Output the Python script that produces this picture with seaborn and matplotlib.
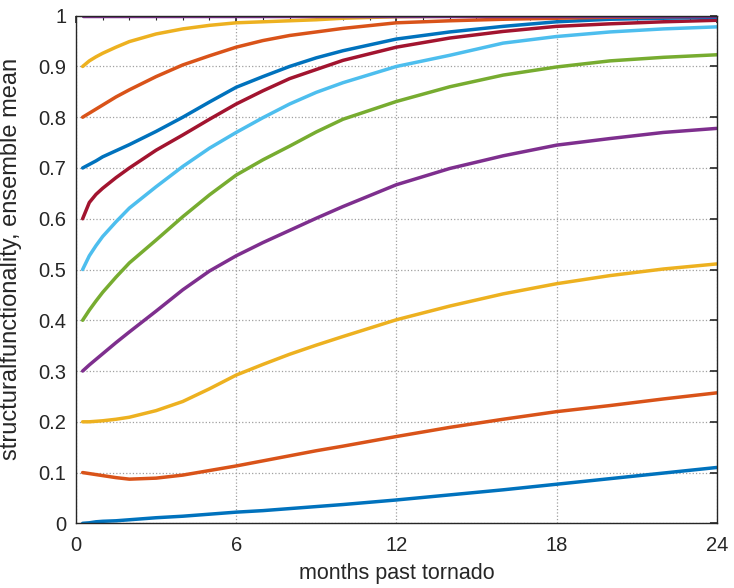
import numpy as np
import pandas as pd
import matplotlib
matplotlib.use("Agg")
import matplotlib.pyplot as plt
import seaborn as sns
from matplotlib.ticker import MultipleLocator

months = [0.25, 0.5, 0.75, 1, 1.5, 2, 3, 4, 5, 6, 7, 8, 9, 10, 12, 14, 16, 18, 20, 22, 24]

s00 = [0.000, 0.001, 0.003, 0.004, 0.005, 0.007, 0.011, 0.014, 0.018, 0.022, 0.025, 0.029, 0.033, 0.037, 0.046, 0.056, 0.066, 0.077, 0.088, 0.099, 0.110]
s01 = [0.100, 0.098, 0.096, 0.094, 0.090, 0.087, 0.089, 0.095, 0.104, 0.113, 0.123, 0.133, 0.143, 0.152, 0.171, 0.189, 0.205, 0.220, 0.232, 0.245, 0.257]
s02 = [0.200, 0.200, 0.201, 0.202, 0.205, 0.209, 0.222, 0.240, 0.265, 0.292, 0.313, 0.333, 0.351, 0.368, 0.401, 0.428, 0.452, 0.472, 0.488, 0.501, 0.511]
s03 = [0.300, 0.312, 0.323, 0.334, 0.356, 0.377, 0.418, 0.460, 0.497, 0.527, 0.553, 0.577, 0.601, 0.624, 0.667, 0.699, 0.724, 0.745, 0.758, 0.770, 0.778]
s04 = [0.400, 0.420, 0.438, 0.455, 0.485, 0.513, 0.558, 0.604, 0.647, 0.686, 0.716, 0.743, 0.771, 0.796, 0.831, 0.860, 0.883, 0.899, 0.911, 0.918, 0.923]
s05 = [0.500, 0.527, 0.547, 0.565, 0.594, 0.621, 0.663, 0.703, 0.739, 0.770, 0.799, 0.826, 0.849, 0.868, 0.900, 0.922, 0.946, 0.959, 0.968, 0.974, 0.978]
s06 = [0.600, 0.632, 0.648, 0.660, 0.681, 0.700, 0.735, 0.765, 0.796, 0.826, 0.852, 0.876, 0.894, 0.912, 0.938, 0.956, 0.969, 0.979, 0.984, 0.988, 0.991]
s07 = [0.700, 0.707, 0.714, 0.722, 0.734, 0.746, 0.772, 0.800, 0.830, 0.859, 0.880, 0.900, 0.917, 0.931, 0.954, 0.968, 0.979, 0.988, 0.993, 0.995, 0.997]
s08 = [0.800, 0.808, 0.816, 0.824, 0.840, 0.854, 0.880, 0.903, 0.921, 0.938, 0.951, 0.961, 0.968, 0.975, 0.986, 0.990, 0.993, 0.995, 0.997, 0.998, 0.999]
s09 = [0.900, 0.911, 0.919, 0.926, 0.938, 0.949, 0.964, 0.974, 0.981, 0.986, 0.988, 0.990, 0.992, 0.995, 0.998, 0.999, 1.000, 1.000, 1.000, 1.000, 1.000]
s10 = [1.000] * 21

initial = ["0.0", "0.1", "0.2", "0.3", "0.4", "0.5", "0.6", "0.7", "0.8", "0.9", "1.0"]
series = [s00, s01, s02, s03, s04, s05, s06, s07, s08, s09, s10]

colors = ["#0072BD", "#D95319", "#EDB120", "#7E2F8E", "#77AC30", "#4DBEEE",
          "#A2142F", "#0072BD", "#D95319", "#EDB120", "#7E2F8E"]

xticks = [0, 6, 12, 18, 24]
yticks = [0, 0.1, 0.2, 0.3, 0.4, 0.5, 0.6, 0.7, 0.8, 0.9, 1.0]
ytick_labels = ["0", "0.1", "0.2", "0.3", "0.4", "0.5", "0.6", "0.7", "0.8", "0.9", "1"]

rows = []
for name, vals in zip(initial, series):
    for m, v in zip(months, vals):
        rows.append({"month": m, "value": v, "initial": name})
df = pd.DataFrame(rows)

sns.set_style("white")
plt.rcParams["font.family"] = ["Liberation Sans", "DejaVu Sans"]
plt.rcParams["text.color"] = "#262626"
plt.rcParams["axes.labelcolor"] = "#262626"
plt.rcParams["xtick.color"] = "#262626"
plt.rcParams["ytick.color"] = "#262626"

fig = plt.figure(figsize=(7.34, 5.88), dpi=100)
ax = fig.add_axes([0.1035, 0.110, 0.873, 0.8633])

sns.lineplot(data=df, x="month", y="value", hue="initial", hue_order=initial,
             palette=colors, linewidth=2.5, legend=False, sort=False, ax=ax,
             estimator=None)

ax.set_xlim(0, 24)
ax.set_ylim(0, 1)
ax.set_xticks(xticks)
ax.xaxis.set_minor_locator(MultipleLocator(1))
ax.set_yticks(yticks)
ax.set_yticklabels(ytick_labels)

ax.tick_params(axis="both", which="both", direction="in", top=True, right=True,
               labelsize=14.5, color="#262626")
ax.tick_params(axis="both", which="major", length=5, width=1.2)
ax.tick_params(axis="x", which="major", pad=9)
ax.tick_params(axis="y", which="major", pad=7)
ax.tick_params(axis="x", which="minor", length=3, width=0.8)

ax.grid(True, which="major", linestyle=":", color="#a0a0a0", linewidth=0.9)
for sp in ax.spines.values():
    sp.set_color("#262626")
    sp.set_linewidth(1.0)

ax.set_xlabel("months past tornado", fontsize=15.5, labelpad=6)
ax.set_ylabel("structuralfunctionality, ensemble mean", fontsize=17)
ax.yaxis.set_label_coords(-0.084, 0.52)

fig.savefig("out.png", dpi=100)
